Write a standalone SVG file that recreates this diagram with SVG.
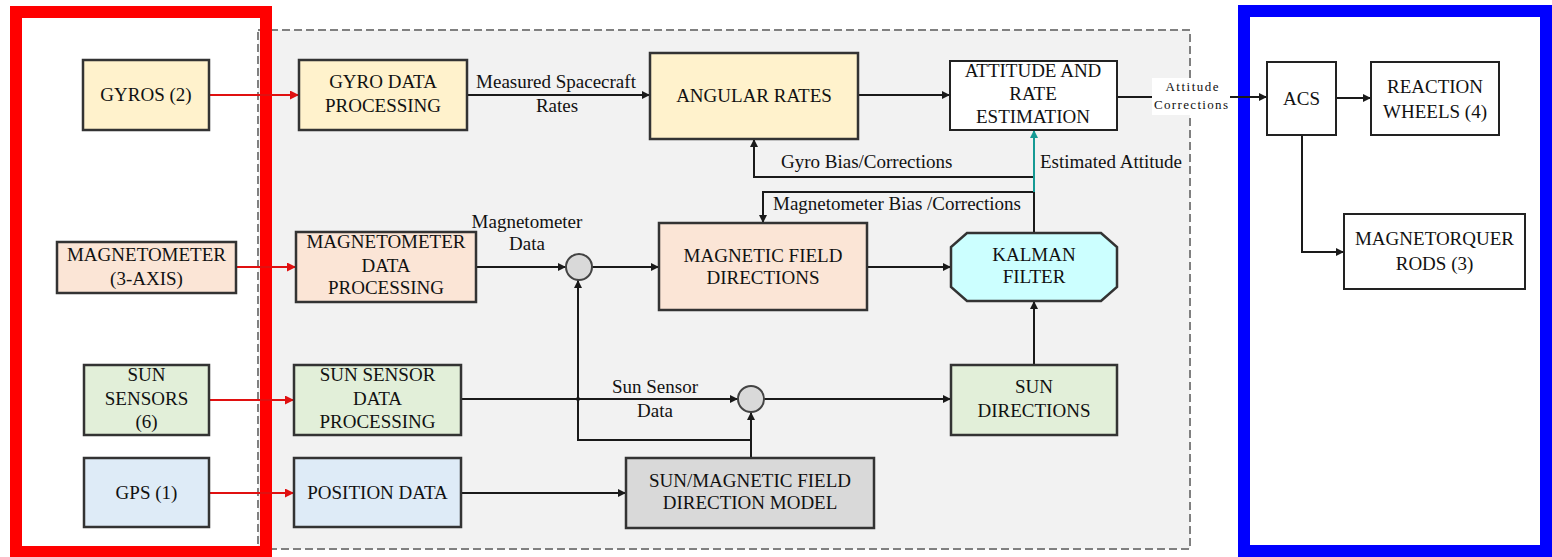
<svg xmlns="http://www.w3.org/2000/svg" width="1552" height="557" viewBox="0 0 1552 557">
<style>
text{font-family:"Liberation Serif","Times New Roman",serif;font-size:19px;fill:#111;text-anchor:middle}
.lbl{text-anchor:start}
.sm{font-size:13px}
.box{stroke:#333;stroke-width:2.5}
.wbox{fill:#fff;stroke:#222;stroke-width:2}
.yel{fill:#fff2cc}.org{fill:#fbe5d6}.grn{fill:#e2efd9}.blu{fill:#deebf7}.cyn{fill:#ccffff}.gry{fill:#d9d9d9}
.c{fill:none;stroke:#1a1a1a;stroke-width:2}
.r{fill:none;stroke:#e01010;stroke-width:2}
.t{fill:none;stroke:#159a94;stroke-width:2}
</style>
<defs>
<marker id="ab" viewBox="0 0 10 10" refX="10" refY="5" markerWidth="9" markerHeight="8" markerUnits="userSpaceOnUse" orient="auto"><path d="M0,0 L10,5 L0,10 z" fill="#1a1a1a"/></marker>
<marker id="ar" viewBox="0 0 10 10" refX="10" refY="5" markerWidth="11" markerHeight="9" markerUnits="userSpaceOnUse" orient="auto"><path d="M0,0 L10,5 L0,10 z" fill="#e01010"/></marker>
<marker id="at" viewBox="0 0 10 10" refX="10" refY="5" markerWidth="9" markerHeight="8" markerUnits="userSpaceOnUse" orient="auto"><path d="M0,0 L10,5 L0,10 z" fill="#159a94"/></marker>
</defs>

<g id="frames">
<rect x="258" y="30" width="932" height="519" fill="#f2f2f2" stroke="#808080" stroke-width="2" stroke-dasharray="8 4"/>
<rect x="16" y="12" width="250" height="540" fill="none" stroke="#ff0000" stroke-width="12"/>
<rect x="1244" y="11" width="302" height="540" fill="none" stroke="#0000ff" stroke-width="12"/>
</g>

<g id="connectors">
<path class="r" d="M209,95 H299" marker-end="url(#ar)"/>
<path class="r" d="M236,267 H296" marker-end="url(#ar)"/>
<path class="r" d="M209,400 H294" marker-end="url(#ar)"/>
<path class="r" d="M209,493 H294" marker-end="url(#ar)"/>
<path class="c" d="M467,95 H650" marker-end="url(#ab)"/>
<path class="c" d="M858,95 H950" marker-end="url(#ab)"/>
<path class="c" d="M1117,97 H1267" marker-end="url(#ab)"/>
<path class="c" d="M1336,98 H1371" marker-end="url(#ab)"/>
<path class="c" d="M1302,135 V252 H1344" marker-end="url(#ab)"/>
<path class="c" d="M1034,177 H754 V139" marker-end="url(#ab)"/>
<path class="c" d="M1034,192 H763 V223" marker-end="url(#ab)"/>
<path class="c" d="M1034,233 V192"/>
<path class="t" d="M1034,192 V130" marker-end="url(#at)"/>
<path class="c" d="M476,267 H566" marker-end="url(#ab)"/>
<path class="c" d="M592,267 H659" marker-end="url(#ab)"/>
<path class="c" d="M867,267 H951" marker-end="url(#ab)"/>
<path class="c" d="M461,399 H738" marker-end="url(#ab)"/>
<path class="c" d="M764,399 H951" marker-end="url(#ab)"/>
<path class="c" d="M1034,365 V301" marker-end="url(#ab)"/>
<path class="c" d="M461,493 H626" marker-end="url(#ab)"/>
<path class="c" d="M751,458 V412" marker-end="url(#ab)"/>
<path class="c" d="M751,440 H578 V280" marker-end="url(#ab)"/>
<circle cx="578" cy="399" r="2" fill="#1a1a1a"/>
<text x="556" y="88">Measured Spacecraft</text>
<text x="557" y="112">Rates</text>
<text class="lbl" x="781" y="168">Gyro Bias/Corrections</text>
<text class="lbl" x="1040" y="168">Estimated Attitude</text>
<text class="lbl" x="773" y="210">Magnetometer Bias /Corrections</text>
<text x="527" y="228">Magnetometer</text>
<text x="527" y="250">Data</text>
<text x="655" y="393">Sun Sensor</text>
<text x="655" y="417">Data</text>
<rect x="1152" y="78" width="78" height="37" fill="#fff"/>
<text class="sm" x="1192" y="91" textLength="53" lengthAdjust="spacing">Attitude</text>
<text class="sm" x="1191" y="109" textLength="74" lengthAdjust="spacing">Corrections</text>
</g>

<g id="gyros"><rect class="box yel" x="83" y="60" width="126" height="70"/><text x="146" y="101">GYROS (2)</text></g>
<g id="gyro-dp"><rect class="box yel" x="299" y="60" width="168" height="70"/><text x="383" y="88">GYRO DATA</text><text x="383" y="112">PROCESSING</text></g>
<g id="angular"><rect class="box yel" x="650" y="53" width="208" height="86"/><text x="754" y="102">ANGULAR RATES</text></g>
<g id="attitude"><rect class="wbox" x="950" y="61" width="167" height="69"/><text x="1033" y="77">ATTITUDE AND</text><text x="1033" y="100">RATE</text><text x="1033" y="123">ESTIMATION</text></g>
<g id="magnetometer"><rect class="box org" x="57" y="242" width="179" height="51"/><text x="146.5" y="261">MAGNETOMETER</text><text x="146.5" y="285">(3-AXIS)</text></g>
<g id="mag-dp"><rect class="box org" x="296" y="232" width="180" height="70"/><text x="386" y="248">MAGNETOMETER</text><text x="386" y="272">DATA</text><text x="386" y="294">PROCESSING</text></g>
<g id="sum1"><circle cx="579" cy="267" r="13" fill="#d9d9d9" stroke="#444" stroke-width="2"/></g>
<g id="mag-field"><rect class="box org" x="659" y="223" width="208" height="87"/><text x="763" y="262">MAGNETIC FIELD</text><text x="763" y="284">DIRECTIONS</text></g>
<g id="kalman"><path class="box cyn" d="M967,233 H1101 L1117,247 V287 L1101,301 H967 L951,287 V247 Z"/><text x="1034" y="261">KALMAN</text><text x="1034" y="283">FILTER</text></g>
<g id="sun-sensors"><rect class="box grn" x="84" y="365" width="125" height="70"/><text x="146.5" y="381">SUN</text><text x="146.5" y="405">SENSORS</text><text x="146.5" y="428">(6)</text></g>
<g id="sun-dp"><rect class="box grn" x="294" y="365" width="167" height="70"/><text x="377.5" y="381">SUN SENSOR</text><text x="377.5" y="405">DATA</text><text x="377.5" y="428">PROCESSING</text></g>
<g id="sum2"><circle cx="751" cy="399" r="13" fill="#d9d9d9" stroke="#444" stroke-width="2"/></g>
<g id="sun-dirs"><rect class="box grn" x="951" y="365" width="166" height="70"/><text x="1034" y="393">SUN</text><text x="1034" y="417">DIRECTIONS</text></g>
<g id="gps"><rect class="box blu" x="84" y="458" width="125" height="69"/><text x="146.5" y="499">GPS (1)</text></g>
<g id="position"><rect class="box blu" x="294" y="458" width="167" height="69"/><text x="377.5" y="499">POSITION DATA</text></g>
<g id="model"><rect class="box gry" x="626" y="458" width="248" height="70"/><text x="750" y="487">SUN/MAGNETIC FIELD</text><text x="750" y="509">DIRECTION MODEL</text></g>
<g id="acs"><rect class="wbox" x="1267" y="62" width="69" height="73"/><text x="1301.5" y="105">ACS</text></g>
<g id="reaction"><rect class="wbox" x="1371" y="62" width="128" height="73"/><text x="1435" y="93">REACTION</text><text x="1435" y="118">WHEELS (4)</text></g>
<g id="magnetorquer"><rect class="wbox" x="1344" y="214" width="181" height="75"/><text x="1434.5" y="245">MAGNETORQUER</text><text x="1434.5" y="270">RODS (3)</text></g>
</svg>
